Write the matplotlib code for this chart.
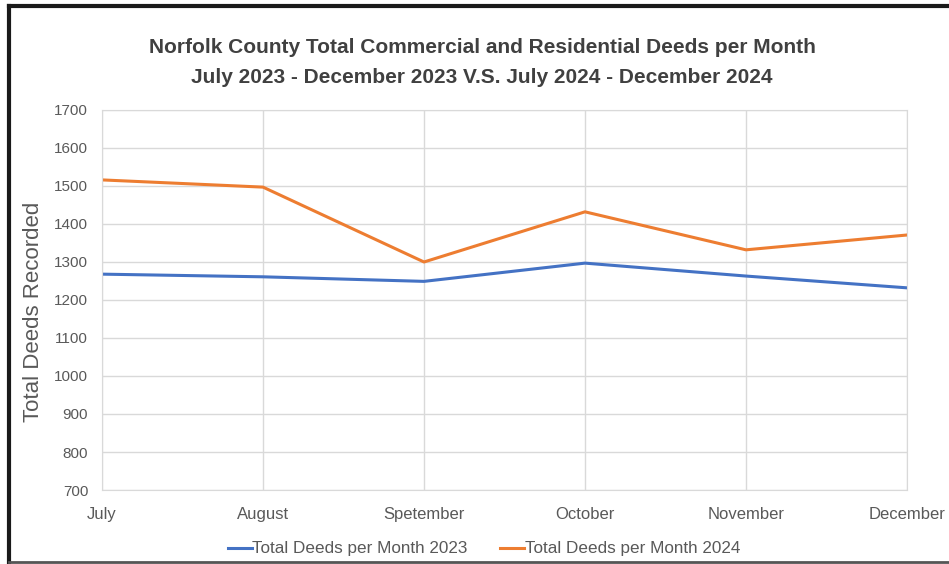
import matplotlib.pyplot as plt
from matplotlib.lines import Line2D

# Data
months = ['July', 'August', 'Spetember', 'October', 'November', 'December']
deeds_2023 = [1268, 1261, 1249, 1297, 1263, 1232]
deeds_2024 = [1516, 1497, 1300, 1432, 1332, 1371]

plt.rcParams['font.family'] = ['Liberation Sans', 'DejaVu Sans']

fig = plt.figure(figsize=(9.49, 5.64), dpi=100)
ax = fig.add_axes([0.1075, 0.1312, 0.8482, 0.6738])

ax.plot(months, deeds_2023, color='#4472c4', linewidth=2.2, label='Total Deeds per Month 2023')
ax.plot(months, deeds_2024, color='#ed7d31', linewidth=2.2, label='Total Deeds per Month 2024')

ax.set_ylim(700, 1700)
ax.set_yticks(range(700, 1701, 100))
ax.set_xlim(0, len(months) - 1)
ax.grid(True, color='#d9d9d9', linewidth=1)
ax.set_axisbelow(True)
for s in ax.spines.values():
    s.set_color('#d9d9d9')
ax.tick_params(length=0, colors='#595959', labelsize=11)
ax.tick_params(axis='x', pad=12, labelsize=12)
ax.tick_params(axis='y', pad=10)

ax.set_ylabel('Total Deeds Recorded', fontsize=16, color='#595959')
ax.yaxis.set_label_coords(-0.072, 0.468)

fig.text(0.508, 0.915, 'Norfolk County Total Commercial and Residential Deeds per Month',
         ha='center', va='center', fontsize=15, color='#404040', fontweight='bold')
fig.text(0.508, 0.862, 'July 2023 - December 2023 V.S. July 2024 - December 2024',
         ha='center', va='center', fontsize=15, color='#404040', fontweight='bold')

ax.legend(loc='upper center', bbox_to_anchor=(0.4745, -0.095), ncol=2, frameon=False,
          fontsize=12.3, labelcolor='#595959', handlelength=1.4, handletextpad=0.05,
          columnspacing=1.9)

# frame around the picture
fig.add_artist(Line2D([0.009, 1], [0.989, 0.989], color='#1a1a1a', linewidth=3))
fig.add_artist(Line2D([0.009, 0.009], [0.003, 0.989], color='#1a1a1a', linewidth=3))
fig.add_artist(Line2D([0.009, 1], [0.003, 0.003], color='#555555', linewidth=2))

fig.savefig('out.png', dpi=100)
